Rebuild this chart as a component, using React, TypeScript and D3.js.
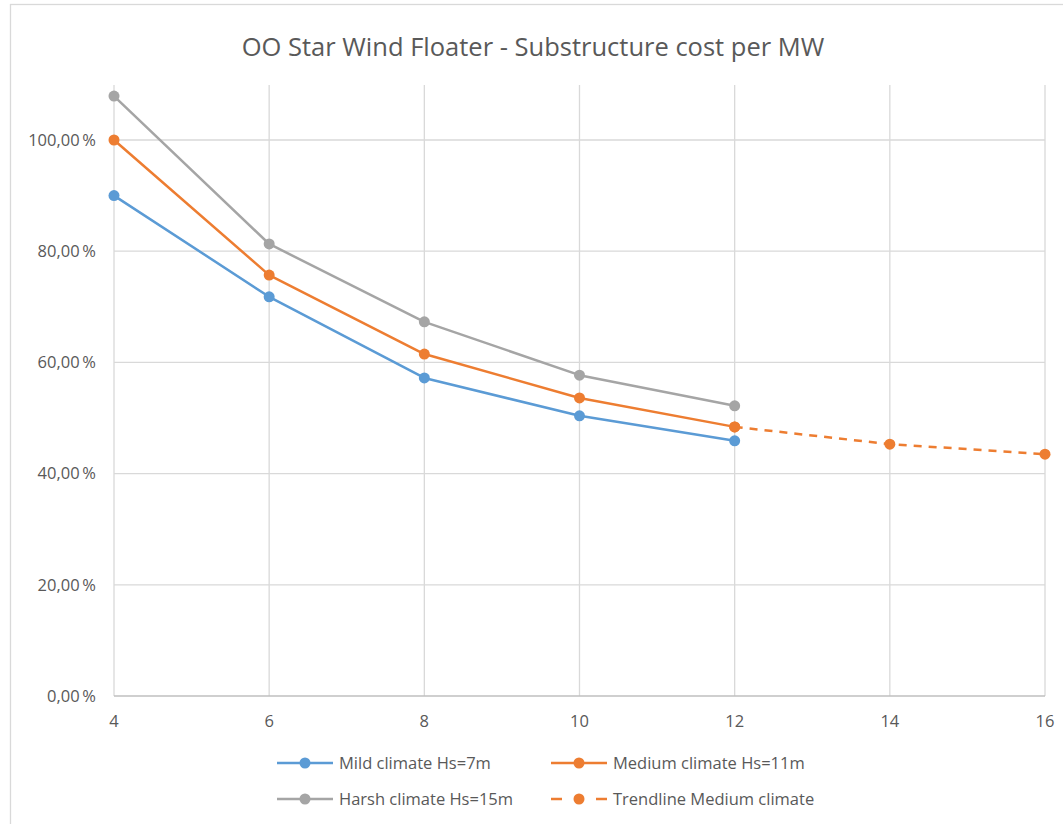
import * as d3 from "d3";

const xTicks = [4, 6, 8, 10, 12, 14, 16];
const yTicks = [0, 20, 40, 60, 80, 100];

const sizes = [4, 6, 8, 10, 12];
const mild = [90.0, 71.8, 57.2, 50.4, 45.9];
const medium = [100.0, 75.7, 61.5, 53.6, 48.4];
const harsh = [107.9, 81.3, 67.3, 57.7, 52.2];

const trendSizes = [12, 14, 16];
const trend = [48.4, 45.3, 43.5];

const BLUE = "#5B9BD5";
const ORANGE = "#ED7D31";
const GREY = "#A5A5A5";
const TEXT = "#595959";
const GRID = "#D9D9D9";
const FONT = "'Open Sans', 'Noto Sans', sans-serif";

const series = [
  { name: "Mild climate Hs=7m", color: BLUE, xs: sizes, ys: mild, dash: false },
  { name: "Medium climate Hs=11m", color: ORANGE, xs: sizes, ys: medium, dash: false },
  { name: "Harsh climate Hs=15m", color: GREY, xs: sizes, ys: harsh, dash: false },
  { name: "Trendline Medium climate", color: ORANGE, xs: trendSizes, ys: trend, dash: true },
];

export default function App() {
  const width = 1063;
  const height = 824;
  const plot = { left: 114, right: 1045, top: 85, bottom: 696 };

  const x = d3.scaleLinear().domain([4, 16]).range([plot.left, plot.right]);
  const y = d3.scaleLinear().domain([0, 100]).range([plot.bottom, 140]);

  const line = d3
    .line<[number, number]>()
    .x((d) => x(d[0]))
    .y((d) => y(d[1]));

  const fmt = (v: number) => v.toFixed(2).replace(".", ",") + "\u2009%";

  // trendline first so the solid series sit on top
  const drawOrder = [series[3], series[2], series[1], series[0]];

  const legendPos = [
    { x: 277, y: 763 },
    { x: 551, y: 763 },
    { x: 277, y: 799 },
    { x: 551, y: 799 },
  ];

  return (
    <svg
      width={width}
      height={height}
      style={{ position: "absolute", left: 0, top: 0, background: "#fff" }}
      fontFamily={FONT}
    >
      <rect x={10.5} y={4.5} width={1100} height={900} fill="#fff" stroke={GRID} strokeWidth={1.3} />

      <text x={533} y={56} textAnchor="middle" fontSize={25.5} fill={TEXT}>
        OO Star Wind Floater - Substructure cost per MW
      </text>

      {/* grid */}
      {yTicks.slice(1).map((t) => (
        <line key={`hy${t}`} x1={plot.left} x2={plot.right} y1={y(t)} y2={y(t)} stroke={GRID} strokeWidth={1.3} />
      ))}
      {xTicks.map((t) => (
        <line key={`vx${t}`} x1={x(t)} x2={x(t)} y1={plot.top} y2={plot.bottom} stroke={GRID} strokeWidth={1.3} />
      ))}
      <line x1={plot.left} x2={plot.right} y1={plot.bottom} y2={plot.bottom} stroke="#BFBFBF" strokeWidth={1.3} />

      {/* axis labels */}
      {yTicks.map((t) => (
        <text key={`yl${t}`} x={96} y={y(t)} dy="0.35em" textAnchor="end" fontSize={16.5} fill={TEXT}>
          {fmt(t)}
        </text>
      ))}
      {xTicks.map((t) => (
        <text key={`xl${t}`} x={x(t)} y={721} dy="0.35em" textAnchor="middle" fontSize={16.5} fill={TEXT}>
          {t}
        </text>
      ))}

      {/* series */}
      {drawOrder.map((s) => {
        const pts = s.xs.map((v, i) => [v, s.ys[i]] as [number, number]);
        return (
          <g key={s.name}>
            <path
              d={line(pts) as string}
              fill="none"
              stroke={s.color}
              strokeWidth={2.5}
              strokeDasharray={s.dash ? "8 7" : undefined}
              strokeLinejoin="round"
            />
            {pts.map((p, i) => (
              <circle key={i} cx={x(p[0])} cy={y(p[1])} r={5.5} fill={s.color} />
            ))}
          </g>
        );
      })}

      {/* legend */}
      {series.map((s, i) => {
        const p = legendPos[i];
        return (
          <g key={`lg${i}`} transform={`translate(${p.x},${p.y})`}>
            {s.dash ? (
              <>
                <line x1={0} x2={11} y1={0} y2={0} stroke={s.color} strokeWidth={2.5} />
                <line x1={45} x2={56} y1={0} y2={0} stroke={s.color} strokeWidth={2.5} />
              </>
            ) : (
              <line x1={0} x2={56} y1={0} y2={0} stroke={s.color} strokeWidth={2.5} />
            )}
            <circle cx={28} cy={0} r={5.5} fill={s.color} />
            <text x={62} y={0} dy="0.35em" fontSize={16.5} fill={TEXT}>
              {s.name}
            </text>
          </g>
        );
      })}
    </svg>
  );
}
